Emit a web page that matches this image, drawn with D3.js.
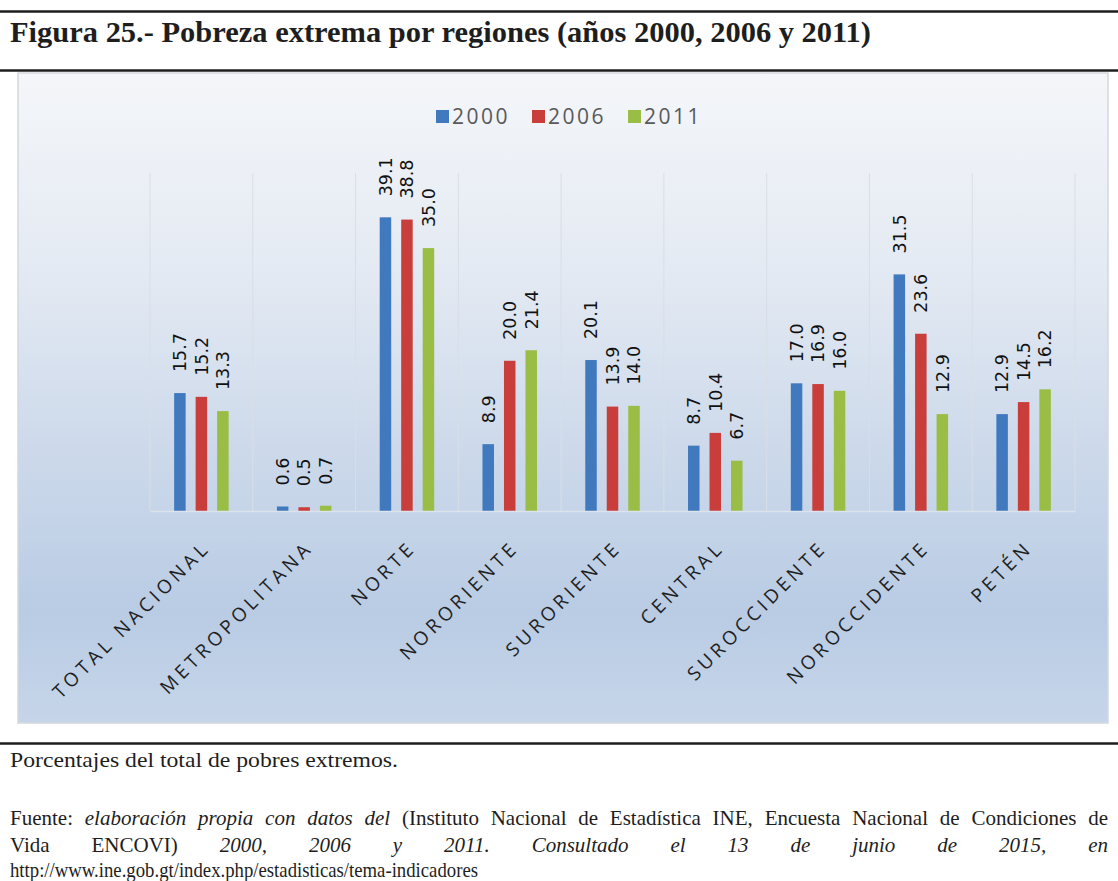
<!DOCTYPE html>
<html><head><meta charset="utf-8">
<script src="https://cdn.jsdelivr.net/npm/d3@7"></script>
<style>
html,body{margin:0;padding:0;background:#fff;}
svg{display:block;}
</style></head>
<body>
<svg id="chart" width="1118" height="881"></svg>
<script>
const categories = ["TOTAL NACIONAL","METROPOLITANA","NORTE","NORORIENTE","SURORIENTE","CENTRAL","SUROCCIDENTE","NOROCCIDENTE","PETÉN"];
const years = ["2000","2006","2011"];
const values2000 = [15.7, 0.6, 39.1, 8.9, 20.1, 8.7, 17.0, 31.5, 12.9];
const values2006 = [15.2, 0.5, 38.8, 20.0, 13.9, 10.4, 16.9, 23.6, 14.5];
const values2011 = [13.3, 0.7, 35.0, 21.4, 14.0, 6.7, 16.0, 12.9, 16.2];
const seriesColors = ["#4179bf", "#c93e3b", "#99bd45"];

const title = "Figura 25.- Pobreza extrema por regiones (años 2000, 2006 y 2011)";
const note = "Porcentajes del total de pobres extremos.";
const url = "http://www.ine.gob.gt/index.php/estadisticas/tema-indicadores";

const series = [values2000, values2006, values2011];
const data = categories.map((c, i) => ({cat: c, vals: years.map((y, k) => ({year: y, value: series[k][i], k}))}));

const svg = d3.select("#chart");
const W = 1118;

// frame lines
[11.5, 70.5, 743.5].forEach(yy => svg.append("line").attr("x1", 0).attr("x2", W).attr("y1", yy).attr("y2", yy)
  .attr("stroke", "#1e1e1e").attr("stroke-width", 2.5));

// title
svg.append("text").attr("x", 10).attr("y", 42).text(title)
  .attr("font-family", "Liberation Serif, serif").attr("font-weight", "bold").attr("font-size", 29)
  .attr("fill", "#1e1e1e").attr("textLength", 861).attr("lengthAdjust", "spacingAndGlyphs");

// chart background
const defs = svg.append("defs");
const grad = defs.append("linearGradient").attr("id", "bg").attr("x1", 0).attr("x2", 0).attr("y1", 0).attr("y2", 1);
[[0, "#f4f6f9"], [0.3, "#e4eaf3"], [0.6, "#cbd8ea"], [0.83, "#b9cce4"], [1, "#c6d5e9"]]
  .forEach(([o, c]) => grad.append("stop").attr("offset", o).attr("stop-color", c));
svg.append("rect").attr("x", 18).attr("y", 73).attr("width", 1090).attr("height", 650)
  .attr("fill", "url(#bg)").attr("stroke", "#d3d8de").attr("stroke-width", 1.5);

// scales
const x0 = d3.scaleBand().domain(categories).range([150, 1075]).padding(0);
const groupW = 54.5;
const x1 = d3.scaleBand().domain(years).range([0, groupW]).paddingInner(0.465).paddingOuter(0);
const off = (x0.bandwidth() - groupW) / 2;
const y = d3.scaleLinear().domain([0, 45]).range([511, 173]);

// gridlines
const gx = categories.map(c => x0(c)).concat([x0.range()[1]]);
svg.append("g").selectAll("line").data(gx).join("line")
  .attr("x1", d => d).attr("x2", d => d).attr("y1", y(45)).attr("y2", y(0))
  .attr("stroke", "#d9dee5").attr("stroke-width", 1);

// bars
const g = svg.append("g");
const groups = g.selectAll("g.grp").data(data).join("g").attr("class", "grp")
  .attr("transform", d => `translate(${x0(d.cat) + off},0)`);
groups.selectAll("rect").data(d => d.vals).join("rect")
  .attr("x", d => x1(d.year)).attr("width", x1.bandwidth())
  .attr("y", d => y(d.value)).attr("height", d => y(0) - y(d.value))
  .attr("fill", d => seriesColors[d.k]);
groups.selectAll("text").data(d => d.vals).join("text")
  .attr("transform", d => `translate(${x1(d.year) + x1.bandwidth() / 2},${y(d.value) - 21}) rotate(-90)`)
  .attr("dy", "0.36em").attr("text-anchor", "start")
  .attr("font-family", "DejaVu Sans, sans-serif").attr("font-size", 17.5).attr("fill", "#111")
  .text(d => d.value.toFixed(1));

// x axis baseline + labels
const axis = svg.append("g").attr("transform", `translate(0,${y(0)})`)
  .call(d3.axisBottom(x0).tickSize(0).tickPadding(0));
axis.select(".domain").attr("stroke", "#dde3ea").attr("stroke-width", 1.5);
axis.selectAll(".tick text")
  .attr("y", 0).attr("dy", 0).attr("text-anchor", "end")
  .attr("transform", "translate(10,38) rotate(-45)")
  .attr("font-family", "Open Sans, sans-serif").attr("font-size", 19).attr("letter-spacing", "4px")
  .attr("fill", "#1f1f1f");

// legend
const lg = svg.append("g").attr("transform", "translate(436,110)");
const li = lg.selectAll("g").data(years).join("g").attr("transform", (d, i) => `translate(${i * 96},0)`);
li.append("rect").attr("width", 13).attr("height", 13).attr("fill", (d, i) => seriesColors[i]);
li.append("text").attr("x", 16).attr("y", 14).text(d => d)
  .attr("font-family", "Open Sans, sans-serif").attr("font-size", 21).attr("letter-spacing", "2.5px")
  .attr("fill", "#595959");

// footer
const serif = "Liberation Serif, serif";
svg.append("text").attr("x", 10).attr("y", 767).text(note)
  .attr("font-family", serif).attr("font-size", 21).attr("fill", "#1e1e1e")
  .attr("textLength", 388).attr("lengthAdjust", "spacingAndGlyphs");

function justified(yy, parts) {
  const t = svg.append("text").attr("x", 10).attr("y", yy)
    .attr("font-family", serif).attr("font-size", 21).attr("fill", "#1e1e1e");
  parts.forEach(([s, it]) => t.append("tspan").attr("font-style", it ? "italic" : "normal").text(s));
  const len = t.node().getComputedTextLength();
  const full = parts.map(p => p[0]).join("");
  const nSp = (full.match(/ /g) || []).length;
  t.attr("word-spacing", ((1098 - len) / nSp) + "px");
}
justified(825, [["Fuente: ", false], ["elaboración propia con datos del", true],
  [" (Instituto Nacional de Estadística INE, Encuesta Nacional de Condiciones de", false]]);
justified(852, [["Vida ENCOVI) ", false], ["2000, 2006 y 2011. Consultado el 13 de junio de 2015, en", true]]);
svg.append("text").attr("x", 10).attr("y", 877).text(url)
  .attr("font-family", serif).attr("font-size", 21).attr("fill", "#1e1e1e")
  .attr("textLength", 468).attr("lengthAdjust", "spacingAndGlyphs");
</script>
</body></html>
